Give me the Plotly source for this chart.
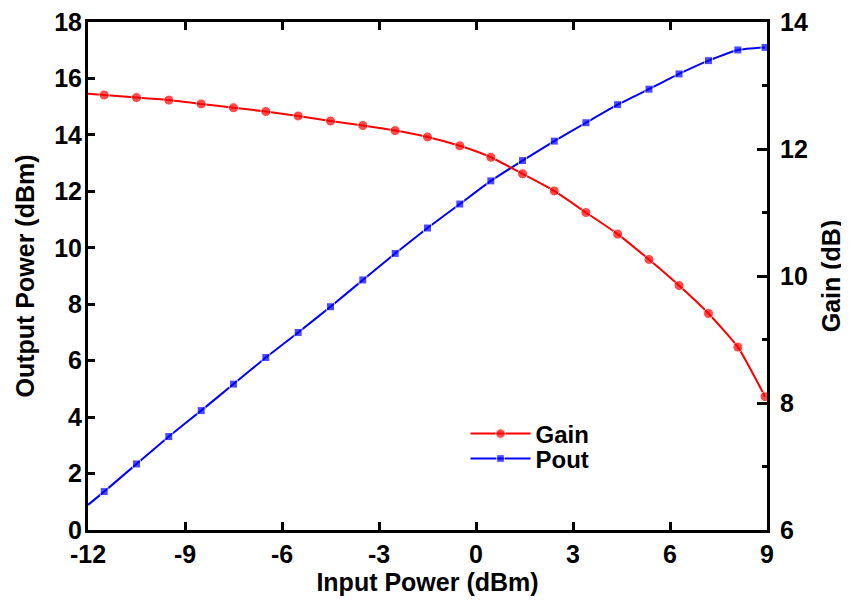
import plotly.graph_objects as go

# Data
input_power = [-11.5, -10.5, -9.5, -8.5, -7.5, -6.5, -5.5, -4.5, -3.5, -2.5, -1.5,
               -0.5, 0.46, 1.44, 2.42, 3.4, 4.38, 5.35, 6.28, 7.19, 8.1, 8.94]
pout = [1.36, 2.34, 3.31, 4.23, 5.17, 6.11, 7.0, 7.91, 8.86, 9.80, 10.70,
        11.55, 12.37, 13.09, 13.78, 14.43, 15.07, 15.62, 16.16, 16.63, 17.01, 17.10]
gain = [12.85, 12.81, 12.77, 12.71, 12.65, 12.59, 12.52, 12.44, 12.37, 12.29, 12.19,
        12.05, 11.87, 11.61, 11.34, 11.00, 10.66, 10.26, 9.85, 9.41, 8.88, 8.10]
# fitted curve starts at the left axis edge
curve_start_x = -12
pout_start = 0.89
gain_start = 12.87

x_ticks = [-12, -9, -6, -3, 0, 3, 6, 9]

FONT = "Liberation Sans, Arial, sans-serif"

fig = go.Figure()

fig.add_trace(go.Scatter(
    x=[curve_start_x] + input_power, y=[gain_start] + gain,
    name="Gain", mode="lines+markers", yaxis="y2",
    line=dict(color="#FF0000", width=2, shape="spline", smoothing=0.5),
    marker=dict(symbol="circle", color="#FF0000", size=[0] + [10] * len(gain)),
    legend="legend",
))
fig.add_trace(go.Scatter(
    x=[curve_start_x] + input_power, y=[pout_start] + pout,
    name="Pout", mode="lines+markers", yaxis="y",
    line=dict(color="#0000FF", width=2, shape="spline", smoothing=0.5),
    marker=dict(symbol="square", color="#0000FF", size=[0] + [8] * len(pout)),
    legend="legend2",
))

tickfont = dict(family=FONT, size=25, color="black", weight="bold")
titlefont = dict(family=FONT, size=25, color="black", weight="bold")
legfont = dict(family=FONT, size=24, color="black", weight="bold")

# page body has an 8px margin, so the figure is sized/offset to compensate
fig.update_layout(
    width=841, height=597,
    margin=dict(l=80, r=82, t=14, b=75),
    paper_bgcolor="white", plot_bgcolor="white",
    font=dict(family=FONT, color="black"),
    xaxis=dict(
        range=[-12, 9], tickvals=x_ticks, ticktext=[str(v) for v in x_ticks],
        ticks="inside", ticklen=8, tickwidth=3, tickcolor="black",
        showline=True, linewidth=3, linecolor="black", mirror="ticks",
        showgrid=False, zeroline=False, tickfont=tickfont, automargin=False,
        ticklabeloverflow="allow",
        title=dict(text="Input Power (dBm)", font=titlefont, standoff=7),
    ),
    yaxis=dict(
        range=[0, 18], dtick=2,
        ticks="inside", ticklen=7, tickwidth=3, tickcolor="black",
        showline=True, linewidth=3, linecolor="black", mirror=True,
        showgrid=False, zeroline=False, tickfont=tickfont, automargin=False,
        ticklabelstandoff=-2, ticklabeloverflow="allow",
        title=dict(text="Output Power (dBm)", font=titlefont, standoff=13),
    ),
    yaxis2=dict(
        range=[6, 14], dtick=2, overlaying="y", side="right",
        ticks="inside", ticklen=10, tickwidth=3, tickcolor="black",
        minor=dict(dtick=1, ticks="inside", ticklen=5, tickwidth=3, tickcolor="black"),
        showline=True, linewidth=3, linecolor="black",
        showgrid=False, zeroline=False, tickfont=tickfont, automargin=False,
        ticklabelstandoff=5, ticklabeloverflow="allow",
        title=dict(text="Gain (dB)", font=titlefont, standoff=16),
    ),
    legend=dict(x=0.556, y=0.189, xanchor="left", yanchor="middle",
                bgcolor="rgba(0,0,0,0)", itemwidth=60, font=legfont),
    legend2=dict(x=0.556, y=0.140, xanchor="left", yanchor="middle",
                 bgcolor="rgba(0,0,0,0)", itemwidth=60, font=legfont),
    showlegend=True,
)

fig.write_html("out.html")
